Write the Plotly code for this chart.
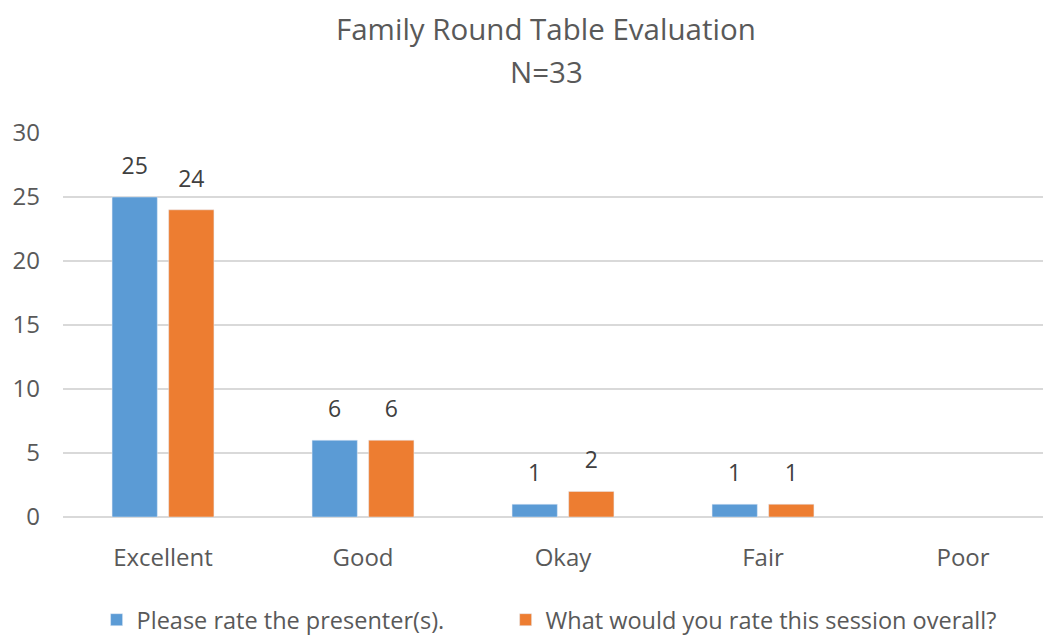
import plotly.graph_objects as go

categories = ["Excellent", "Good", "Okay", "Fair", "Poor"]
presenter = [25, 6, 1, 1, None]
session = [24, 6, 2, 1, None]
series_names = ["Please rate the presenter(s).", "What would you rate this session overall?"]
title_lines = ["Family Round Table Evaluation", "N=33"]

FONT = "Open Sans"
TEXT = "#595959"
GAP = 0.434

fig = go.Figure()
for name, vals, color, leg in [
    (series_names[0], presenter, "#5B9BD5", "legend"),
    (series_names[1], session, "#ED7D31", "legend2"),
]:
    fig.add_trace(go.Bar(
        x=categories, y=vals, name=name, marker_color=color,
        legend=leg, hoverinfo="x+y+name",
    ))

# value labels: invisible grouped markers so the text sits a little higher above the bars
for vals in (presenter, session):
    fig.add_trace(go.Scatter(
        x=categories, y=vals, mode="markers+text",
        text=[str(v) if v is not None else "" for v in vals],
        textposition="top center", cliponaxis=False,
        marker=dict(size=26, opacity=0), showlegend=False, hoverinfo="skip",
        textfont=dict(size=23, color="#404040", family=FONT),
    ))

# two-line title as annotations
for txt, ypos in zip(title_lines, [1.273, 1.159]):
    fig.add_annotation(
        text=txt, xref="paper", yref="paper", x=0.489, y=ypos,
        xanchor="center", yanchor="middle", showarrow=False,
        font=dict(size=29.5, color=TEXT, family=FONT),
    )

legend_style = dict(
    orientation="h", xanchor="left", y=-0.268, yanchor="middle",
    font=dict(size=23.5, color=TEXT, family=FONT), itemwidth=30,
)

fig.update_layout(
    width=1043, height=630,
    barmode="group", bargap=GAP, bargroupgap=0.2,
    scattermode="group", scattergap=GAP,
    plot_bgcolor="white", paper_bgcolor="white",
    margin=dict(l=55, r=0, t=125, b=121, autoexpand=False),
    font=dict(family=FONT, color=TEXT, size=23),
    showlegend=True,
    legend=dict(x=0.034, **legend_style),
    legend2=dict(x=0.448, **legend_style),
    xaxis=dict(showline=False, ticks="", automargin=False, range=[-0.5, 4.44],
               tickfont=dict(size=24, color=TEXT), ticklabelstandoff=24),
    yaxis=dict(
        range=[0, 30], dtick=5, showgrid=True, gridcolor="#D9D9D9", gridwidth=1.5,
        zeroline=True, zerolinecolor="#D9D9D9", zerolinewidth=1.5, automargin=False,
        tickfont=dict(size=24, color=TEXT), ticklabelstandoff=22,
    ),
)

fig.write_html("out.html")
